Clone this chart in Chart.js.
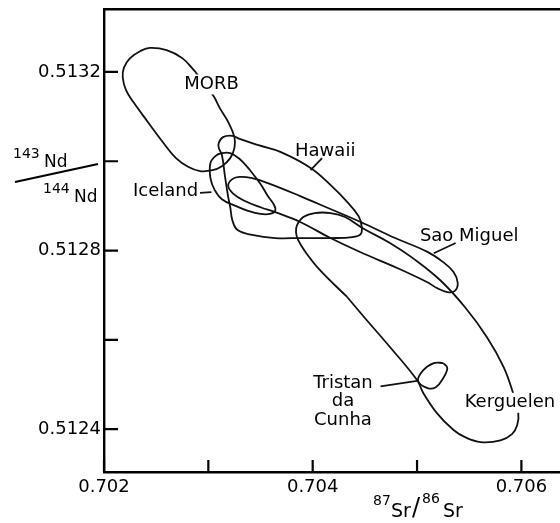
<!DOCTYPE html>
<html lang="en">
<head>
<meta charset="UTF-8">
<title>Nd-Sr isotope fields</title>
<style>
  body { margin: 0; background: #fff; }
  canvas { display: block; }
</style>
</head>
<body>
<canvas id="myChart" width="560" height="523"></canvas>
<script src="https://cdn.jsdelivr.net/npm/chart.js"></script>
<script>
// axis ranges and ticks
const xMin = 0.702, xMax = 0.70637;
const yMin = 0.512304, yMax = 0.513341;
const xTicks = [0.702, 0.703, 0.704, 0.705, 0.706];
const xTickLabels = ['0.702', '', '0.704', '', '0.706'];
const yTicks = [0.5124, 0.5126, 0.5128, 0.5130, 0.5132];
const yTickLabels = ['0.5124', '', '0.5128', '', '0.5132'];

// outlines of the fields, points are [87Sr/86Sr, 143Nd/144Nd]
const morb = [[0.70287,0.513202],[0.70275,0.513231],[0.70260,0.513249],[0.70244,0.513254],[0.70235,0.513247],
  [0.70225,0.513231],[0.70219,0.513209],[0.70218,0.513187],[0.70221,0.513160],[0.70228,0.513133],[0.70242,0.513088],
  [0.70257,0.513041],[0.70269,0.513007],[0.70281,0.512987],[0.70292,0.512978],[0.70304,0.512980],[0.70313,0.512989],
  [0.70321,0.513007],[0.70325,0.513030],[0.70325,0.513054],[0.70319,0.513088],[0.70311,0.513119],[0.70305,0.513146],
  [0.70296,0.513173],[0.70287,0.513202]];
const hawaii = [[0.70388,0.512828],[0.70364,0.512828],[0.70342,0.512835],[0.70328,0.512846],[0.70323,0.512868],
  [0.70321,0.512897],[0.70319,0.512920],[0.70316,0.512965],[0.70313,0.513014],[0.70310,0.513030],[0.70310,0.513041],
  [0.70314,0.513054],[0.70323,0.513057],[0.70330,0.513050],[0.70348,0.513036],[0.70369,0.513021],[0.70398,0.512985],
  [0.70417,0.512947],[0.70433,0.512909],[0.70444,0.512877],[0.70447,0.512853],[0.70446,0.512837],[0.70438,0.512830],
  [0.70417,0.512828],[0.70388,0.512828]];
const iceland = [[0.70340,0.512980],[0.70350,0.512949],[0.70357,0.512922],[0.70363,0.512902],[0.70364,0.512889],
  [0.70359,0.512882],[0.70350,0.512882],[0.70338,0.512889],[0.70326,0.512900],[0.70313,0.512915],[0.70306,0.512936],
  [0.70302,0.512962],[0.70302,0.512996],[0.70307,0.513012],[0.70313,0.513018],[0.70321,0.513018],[0.70330,0.513005],
  [0.70340,0.512980]];
const saoMiguel = [[0.70417,0.512893],[0.70446,0.512864],[0.70479,0.512828],[0.70510,0.512797],[0.70525,0.512774],
  [0.70535,0.512752],[0.70539,0.512727],[0.70536,0.512709],[0.70529,0.512707],[0.70519,0.512716],[0.70510,0.512729],
  [0.70481,0.512761],[0.70448,0.512794],[0.70417,0.512828],[0.70388,0.512864],[0.70364,0.512886],[0.70350,0.512897],
  [0.70335,0.512911],[0.70324,0.512927],[0.70319,0.512945],[0.70323,0.512960],[0.70330,0.512965],[0.70342,0.512962],
  [0.70357,0.512951],[0.70388,0.512922],[0.70417,0.512893]];
const kerguelen = [[0.70433,0.512696],[0.70407,0.512756],[0.70393,0.512797],[0.70386,0.512824],[0.70384,0.512841],
  [0.70385,0.512857],[0.70391,0.512875],[0.70402,0.512884],[0.70417,0.512884],[0.70431,0.512875],[0.70448,0.512850],
  [0.70474,0.512817],[0.70496,0.512783],[0.70522,0.512734],[0.70546,0.512673],[0.70567,0.512606],[0.70583,0.512539],
  [0.70592,0.512481],[0.70597,0.512438],[0.70596,0.512409],[0.70591,0.512389],[0.70580,0.512375],[0.70561,0.512371],
  [0.70546,0.512382],[0.70535,0.512398],[0.70519,0.512436],[0.70506,0.512481],[0.70500,0.512510],[0.70474,0.512584],
  [0.70450,0.512649],[0.70433,0.512696]];
const tristan = [[0.70525,0.512548],[0.70529,0.512537],[0.70525,0.512514],[0.70518,0.512494],[0.70510,0.512492],
  [0.70501,0.512508],[0.70506,0.512532],[0.70516,0.512548],[0.70525,0.512548]];

// short leader lines from the names to the fields
const hawaiiLeader = [[0.70398,0.512980],[0.70409,0.513007]];
const icelandLeader = [[0.70292,0.512929],[0.70303,0.512931]];
const saoLeader = [[0.70516,0.512794],[0.70537,0.512817]];
const tristanLeader = [[0.70465,0.512496],[0.70500,0.512508]];

// field names
const fieldNames = ['MORB', 'Hawaii', 'Iceland', 'Sao Miguel', 'Tristan\nda\nCunha', 'Kerguelen'];
const nameX = [0.70303, 0.70412, 0.70259, 0.70550, 0.70429, 0.70589];
const nameY = [0.513172, 0.513022, 0.512932, 0.512831, 0.512462, 0.512459];
const nameBox = [true, false, false, false, false, true];

const toXY = arr => arr.map(p => ({x: p[0], y: p[1]}));

const outlines = [morb, hawaii, iceland, saoMiguel, kerguelen, tristan];
const leaders = [hawaiiLeader, icelandLeader, saoLeader, tristanLeader];

const datasets = [];
outlines.forEach(o => datasets.push({
  data: toXY(o), showLine: true, tension: 0.4, borderColor: '#111', borderWidth: 1.8,
  pointRadius: 0, fill: false
}));
leaders.forEach(l => datasets.push({
  data: toXY(l), showLine: true, tension: 0, borderColor: '#111', borderWidth: 1.8,
  pointRadius: 0, fill: false
}));

const FONT = '"DejaVu Sans"';

// inward ticks, names and the axis titles
const decor = {
  id: 'decor',
  afterDatasetsDraw(chart) {
    const c = chart.ctx, a = chart.chartArea;
    const xs = chart.scales.x, ys = chart.scales.y;
    c.save();
    c.strokeStyle = '#000';
    c.lineWidth = 2.2;
    c.beginPath();
    xTicks.forEach(v => {
      const px = xs.getPixelForValue(v);
      c.moveTo(px, a.bottom); c.lineTo(px, a.bottom - 12);
    });
    yTicks.forEach(v => {
      const py = ys.getPixelForValue(v);
      c.moveTo(a.left, py); c.lineTo(a.left + 14, py);
    });
    c.stroke();

    c.font = '18px ' + FONT;
    c.fillStyle = '#000';
    c.textAlign = 'center';
    c.textBaseline = 'middle';
    fieldNames.forEach((t, i) => {
      const px = xs.getPixelForValue(nameX[i]);
      const py = ys.getPixelForValue(nameY[i]);
      const lines = t.split('\n');
      const lh = 18.5;
      const y0 = py - (lines.length - 1) * lh / 2;
      if (nameBox[i]) {
        const w = c.measureText(t).width;
        c.fillStyle = '#fff';
        c.fillRect(px - w / 2 - 1, py - 10, w + 2, 20);
        c.fillStyle = '#000';
      }
      lines.forEach((ln, k) => c.fillText(ln, px, y0 + k * lh));
    });

    // y title: 143Nd / 144Nd with a slanted bar
    c.textAlign = 'left';
    c.textBaseline = 'alphabetic';
    c.font = '14px ' + FONT;
    c.fillText('143', 13, 158);
    c.fillText('144', 43, 193);
    c.font = '17px ' + FONT;
    c.fillText('Nd', 44, 167);
    c.fillText('Nd', 74, 202);
    c.beginPath();
    c.moveTo(15, 182); c.lineTo(98, 164);
    c.stroke();

    // x title: 87Sr/86Sr
    c.font = '14px ' + FONT;
    c.fillText('87', 373, 505);
    c.fillText('86', 422, 503);
    c.font = '19px ' + FONT;
    c.fillText('Sr', 391, 517);
    c.fillText('Sr', 443, 517);
    c.font = '24px ' + FONT;
    c.fillText('/', 412, 515);
    c.restore();
  }
};

const ctx = document.getElementById('myChart');
new Chart(ctx, {
  type: 'scatter',
  data: { datasets: datasets },
  options: {
    responsive: false,
    animation: false,
    layout: { padding: { top: 9, right: 0, bottom: 0, left: 0 } },
    plugins: { legend: { display: false }, tooltip: { enabled: false } },
    scales: {
      x: {
        type: 'linear', position: 'bottom', min: xMin, max: xMax,
        afterBuildTicks: s => { s.ticks = xTicks.map(v => ({value: v})); },
        afterFit: s => { s.height = 51; s.paddingLeft = 0; s.paddingRight = 0; },
        ticks: { callback: (v, i) => xTickLabels[i], padding: 5, autoSkip: false, maxRotation: 0,
                 color: '#000', font: { family: FONT, size: 18 } },
        grid: { drawOnChartArea: false, drawTicks: false },
        border: { color: '#000', width: 2.4 }
      },
      x2: {
        type: 'linear', position: 'top', min: xMin, max: xMax,
        afterFit: s => { s.height = 0; s.paddingLeft = 0; s.paddingRight = 0; },
        ticks: { display: false },
        grid: { drawOnChartArea: false, drawTicks: false },
        border: { color: '#000', width: 2.4 }
      },
      y: {
        type: 'linear', min: yMin, max: yMax,
        afterBuildTicks: s => { s.ticks = yTicks.map(v => ({value: v})); },
        afterFit: s => { s.width = 104; s.paddingTop = 0; s.paddingBottom = 0; },
        ticks: { callback: (v, i) => yTickLabels[i], padding: 3, autoSkip: false,
                 color: '#000', font: { family: FONT, size: 18 } },
        grid: { drawOnChartArea: false, drawTicks: false },
        border: { color: '#000', width: 2.4 }
      }
    }
  },
  plugins: [decor]
});
</script>
</body>
</html>
